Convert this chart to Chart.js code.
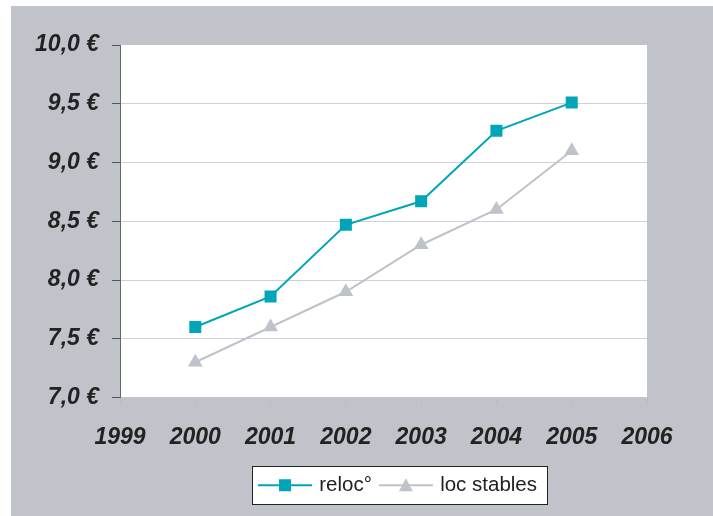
<!DOCTYPE html>
<html>
<head>
<meta charset="utf-8">
<script src="https://cdn.jsdelivr.net/npm/chart.js@4.4.0/dist/chart.umd.min.js"></script>
<style>
  html, body { margin: 0; padding: 0; background: #ffffff; }
  .chart-container {
    position: absolute;
    left: 11px;
    top: 6px;
    width: 702px;
    height: 510px;
    background: #c0c3ca;
  }
</style>
</head>
<body>
<div class="chart-container">
  <canvas id="locChart" width="702" height="510"></canvas>
</div>
<script>
const years = [2000, 2001, 2002, 2003, 2004, 2005];
const reloc = [7.6, 7.86, 8.47, 8.67, 9.27, 9.51];
const locStables = [7.3, 7.6, 7.9, 8.3, 8.6, 9.1];
const yearTicks = [1999, 2000, 2001, 2002, 2003, 2004, 2005, 2006];
const euroTicks = [7.0, 7.5, 8.0, 8.5, 9.0, 9.5, 10.0];

const teal = "rgb(0,166,184)";
const grey = "rgb(190,194,203)";
const labelFont = { family: "'Liberation Sans', Arial, sans-serif", size: 23, style: "italic", weight: "bold" };

const legendRect = (chart) => {
    const boxes = chart.legend.legendHitBoxes;
    if (!boxes || !boxes.length) return null;
    const left = Math.min(...boxes.map((b) => b.left));
    const right = Math.max(...boxes.map((b) => b.left + b.width));
    return { x: Math.round(left - 9) + 0.5, y: 460.5, w: Math.round(right - left + 19), h: 38 };
};

// white plot area and white legend box
const whiteAreas = {
    id: "whiteAreas",
    beforeDraw(chart) {
        const { ctx, chartArea } = chart;
        ctx.save();
        ctx.fillStyle = "#ffffff";
        ctx.fillRect(chartArea.left, chartArea.top, chartArea.right - chartArea.left, chartArea.bottom - chartArea.top);
        const r = legendRect(chart);
        if (r) {
            ctx.fillRect(r.x, r.y, r.w, r.h);
            ctx.strokeStyle = "#222222";
            ctx.lineWidth = 1;
            ctx.strokeRect(r.x, r.y, r.w, r.h);
        }
        ctx.restore();
    },
};

// put the legend under the plot like in the original and
// draw the excel-like symbols (line with the marker in the middle)
const legendSymbols = {
    id: "legendSymbols",
    afterLayout(chart) {
        const lg = chart.legend;
        const w = lg.right - lg.left;
        const h = lg.bottom - lg.top;
        lg.left = 388 - w / 2;
        lg.right = lg.left + w;
        lg.top = 459;
        lg.bottom = lg.top + h;
    },
    afterDraw(chart) {
        const boxes = chart.legend.legendHitBoxes;
        if (!boxes || !boxes.length) return;
        const ctx = chart.ctx;
        ctx.save();
        boxes.forEach((b, i) => {
            const ds = chart.data.datasets[i];
            const x0 = b.left - 3;
            const cy = b.top + b.height / 2;
            ctx.strokeStyle = ds.borderColor;
            ctx.fillStyle = ds.borderColor;
            ctx.lineWidth = 2;
            ctx.beginPath();
            ctx.moveTo(x0, cy);
            ctx.lineTo(x0 + 54, cy);
            ctx.stroke();
            const mx = x0 + 27;
            if (ds.pointStyle === "rect") {
                ctx.fillRect(mx - 6, cy - 6, 12, 12);
            } else {
                ctx.beginPath();
                ctx.moveTo(mx, cy - 7);
                ctx.lineTo(mx + 7, cy + 6);
                ctx.lineTo(mx - 7, cy + 6);
                ctx.closePath();
                ctx.fill();
            }
        });
        ctx.restore();
    },
};

const ctx = document.getElementById("locChart").getContext("2d");

window.locChart = new Chart(ctx, {
    type: "line",
    data: {
        datasets: [
            {
                label: "reloc°",
                data: years.map((yr, i) => ({ x: yr, y: reloc[i] })),
                borderColor: teal,
                backgroundColor: teal,
                borderWidth: 2,
                pointStyle: "rect",
                pointRadius: 8.5,
                pointBorderWidth: 0,
                tension: 0,
            },
            {
                label: "loc stables",
                data: years.map((yr, i) => ({ x: yr, y: locStables[i] })),
                borderColor: grey,
                backgroundColor: grey,
                borderWidth: 2,
                pointStyle: "triangle",
                pointRadius: 8.5,
                pointBorderWidth: 0,
                tension: 0,
            },
        ],
    },
    options: {
        responsive: false,
        animation: false,
        layout: {
            padding: { left: 0, right: 66, top: 39, bottom: 0 },
        },
        scales: {
            x: {
                type: "linear",
                min: yearTicks[0],
                max: yearTicks[yearTicks.length - 1],
                afterBuildTicks: (scale) => {
                    scale.ticks = yearTicks.map((v) => ({ value: v }));
                },
                afterFit: (scale) => {
                    scale.height = 78;
                },
                grid: {
                    drawOnChartArea: false,
                    drawTicks: true,
                    tickLength: 7,
                    tickColor: "rgb(185,188,196)",
                    color: "rgb(185,188,196)",
                },
                border: { color: "rgb(200,200,208)", width: 1 },
                ticks: {
                    padding: 19,
                    color: "#222222",
                    font: labelFont,
                    callback: (v) => String(v),
                },
            },
            y: {
                min: euroTicks[0],
                max: euroTicks[euroTicks.length - 1],
                afterBuildTicks: (scale) => {
                    scale.ticks = euroTicks.map((v) => ({ value: v }));
                },
                afterFit: (scale) => {
                    scale.width = 109;
                },
                grid: {
                    color: (c) => (c.tick && c.tick.value >= 10 ? "rgba(0,0,0,0)" : "rgb(208,208,216)"),
                    tickColor: "#555555",
                    tickLength: 8,
                },
                border: { color: "#666666", width: 1 },
                ticks: {
                    padding: 13,
                    color: "#222222",
                    font: labelFont,
                    callback: (v) => v.toFixed(1).replace(".", ",") + " €",
                },
            },
        },
        plugins: {
            title: { display: false },
            tooltip: { enabled: false },
            legend: {
                position: "bottom",
                labels: {
                    usePointStyle: true,
                    pointStyleWidth: 48,
                    padding: 10,
                    color: "#222222",
                    font: { family: "'Liberation Sans', Arial, sans-serif", size: 20.5 },
                    generateLabels: (chart) =>
                        chart.data.datasets.map((ds, i) => ({
                            text: ds.label,
                            pointStyle: "rect",
                            fillStyle: "rgba(0,0,0,0)",
                            strokeStyle: "rgba(0,0,0,0)",
                            lineWidth: 0,
                            hidden: false,
                            datasetIndex: i,
                            fontColor: "#222222",
                        })),
                },
            },
        },
    },
    plugins: [whiteAreas, legendSymbols],
});
</script>
</body>
</html>
